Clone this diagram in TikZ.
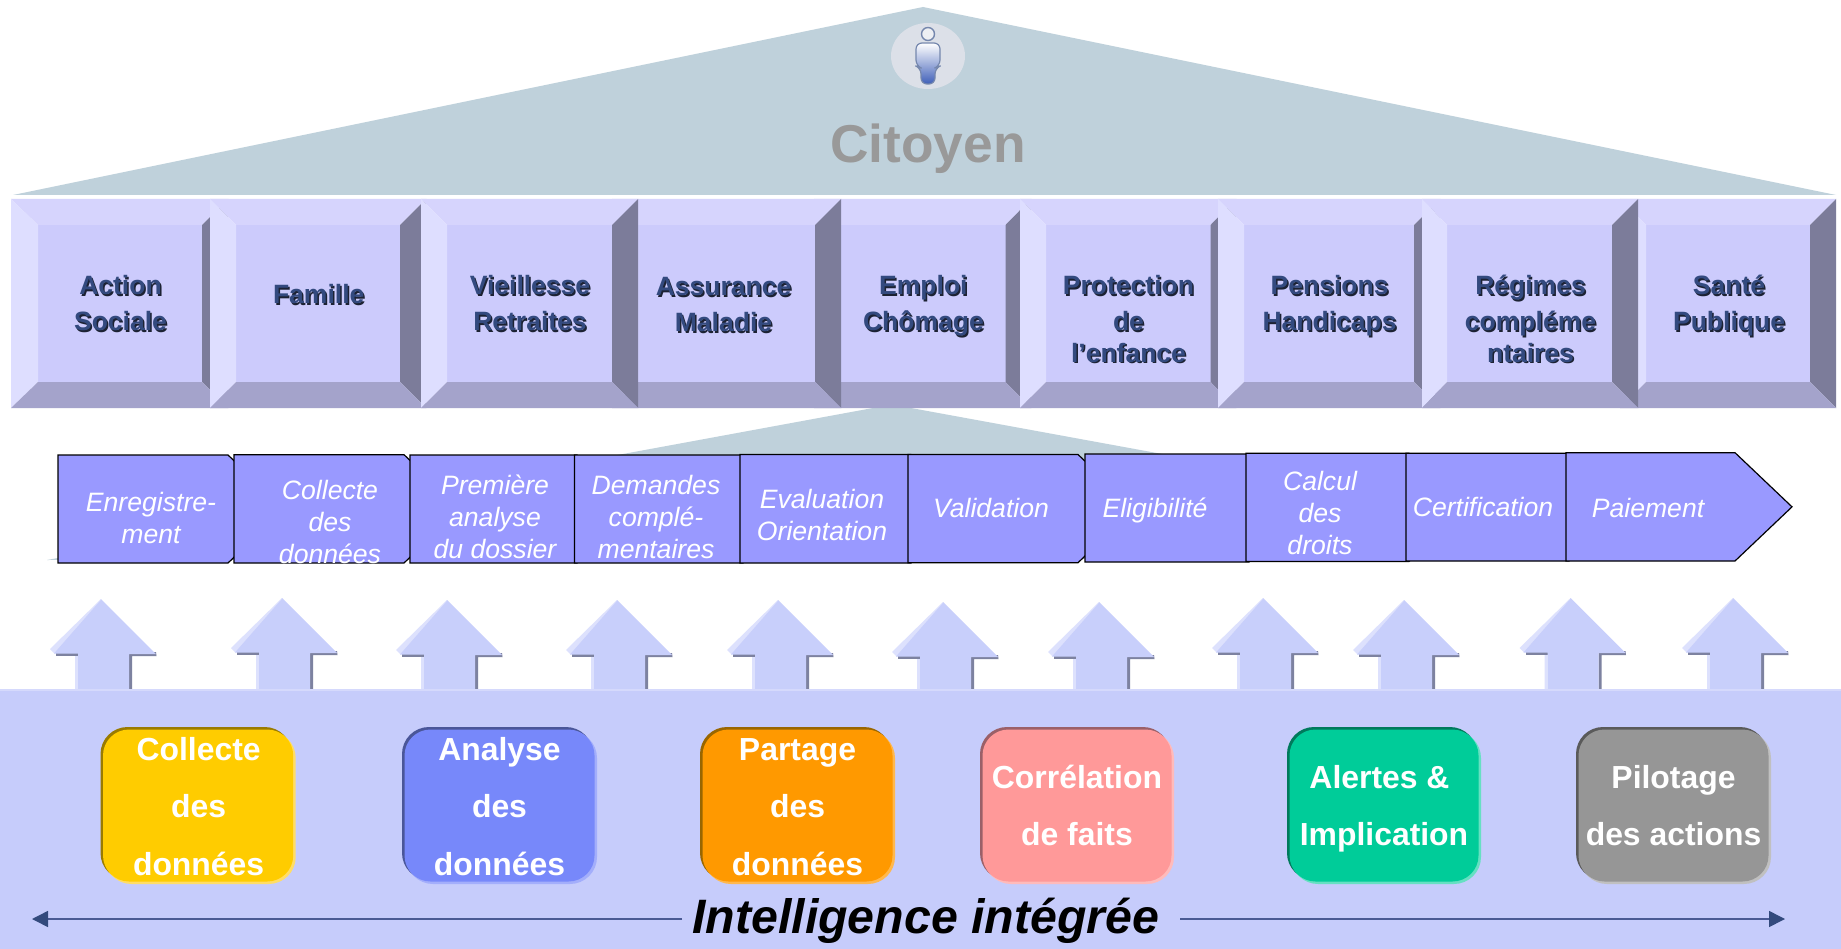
\documentclass[tikz,border=0pt]{standalone}
\usepackage{fontspec}
\setmainfont{Liberation Sans}
\usetikzlibrary{arrows.meta}
\definecolor{roofc}{HTML}{BFD1DB}
\definecolor{bevtop}{HTML}{D6D4FD}
\definecolor{bevleft}{HTML}{DEDEFF}
\definecolor{bevright}{HTML}{7C7C9A}
\definecolor{bevbot}{HTML}{A4A3CB}
\definecolor{bevmid}{HTML}{CCCBFC}
\definecolor{blockink}{HTML}{334A7F}
\definecolor{blockshadow}{HTML}{1C2233}
\definecolor{procfill}{HTML}{9999FF}
\definecolor{panelc}{HTML}{C6CCFB}
\definecolor{paneledge}{HTML}{D5D9FC}
\definecolor{arrmain}{HTML}{C8CFFB}
\definecolor{arrlight}{HTML}{DDE1FD}
\definecolor{arrdark}{HTML}{7D82A0}
\definecolor{lineink}{HTML}{4A5A94}
\definecolor{tipink}{HTML}{334A7D}
\definecolor{citoyenc}{HTML}{999999}
\definecolor{iconbg}{HTML}{DCE0E8}
\definecolor{iconline}{HTML}{7587AD}
\definecolor{iconblue}{HTML}{3F5FB8}
\newcommand{\shadowed}[1]{\leavevmode\rlap{\raisebox{-1.5pt}{\hspace{1.5pt}\color{blockshadow}#1}}{\color{blockink}#1}}
\newcommand{\bevelbox}[4]{%
  \fill[bevmid] (#2,225) rectangle (#3,382);
  \fill[bevtop] (#1,199) -- (#4,199) -- (#3,225) -- (#2,225) -- cycle;
  \fill[bevleft] (#1,199) -- (#2,225) -- (#2,382) -- (#1,408) -- cycle;
  \fill[bevright] (#4,199) -- (#3,225) -- (#3,382) -- (#4,408) -- cycle;
  \fill[bevbot] (#1,408) -- (#2,382) -- (#3,382) -- (#4,408) -- cycle;
}
\newcommand{\procshape}[4]{%
  \filldraw[procshape] (#1,#3) -- (#2,#3) -- ({#2+57},{(#3+#4)/2}) -- (#2,#4) -- (#1,#4) -- cycle;
}
\newcommand{\uparrowshape}[2]{%
  \begin{scope}[shift={(#1,#2)}]
    \fill[arrlight] (0,0) -- (-51,50) -- (-47,54) -- (-26,54) -- (-26,95) -- (-23,95) -- (-23,53) -- cycle;
    \fill[arrdark] (-45,53) rectangle (-23,57);
    \fill[arrdark] (28,53) -- (55,53) -- (55.5,57) -- (31,57) -- (31,95) -- (28,95) -- cycle;
    \fill[arrmain] (0,0) -- (55,55) -- (28,55) -- (28,95) -- (-23,95) -- (-23,54.5) -- (-47,54.5) -- (-1,2) -- cycle;
  \end{scope}
}
\newcommand{\softbox}[5]{%
  \fill[#4, rounded corners=27pt] (#1,727) rectangle ({#2-4},880);
  \fill[#5, rounded corners=27pt] ({#1+4},731) rectangle (#2,884);
  \fill[#3, rounded corners=26pt] ({#1+2.5},729.5) rectangle ({#2-2.5},881.5);
}
\tikzset{
  proclabel/.style={anchor=base, inner sep=0pt, text=white, font=\fontsize{26.6}{32}\selectfont\itshape},
  blocklabel/.style={anchor=base, inner sep=0pt, font=\fontsize{26.5}{36}\selectfont\bfseries},
  softlabel/.style={anchor=base, inner sep=0pt, text=white, font=\fontsize{31.9}{57.5}\selectfont\bfseries},
  procshape/.style={fill=procfill, draw=black, line width=1.2pt, line join=miter},
  bandarrow/.style={draw=lineink, line width=1.5pt, -{Triangle[length=16pt,width=16pt,color=tipink]}},
}
\newcommand{\stack}[1]{\begin{tabular}[t]{@{}c@{}}#1\end{tabular}}
\begin{document}
\begin{tikzpicture}[x=1pt,y=-1pt]
\useasboundingbox (0,0) rectangle (1841,949);
\fill[white] (0,0) rectangle (1841,949);
% roof
\fill[roofc] (13,195) -- (923,7) -- (1836,195) -- cycle;
\fill[roofc] (47,560) -- (873,408) -- (911,408) -- (1730,558) -- cycle;
% citizen icon
\fill[iconbg] (928,56) ellipse [x radius=37, y radius=33];
\filldraw[fill=iconbg!50!white, draw=iconline, line width=1.4pt] (928,34) circle [radius=6.5];
\draw[draw=iconline, line width=1.2pt, top color=white, middle color=white, bottom color=iconblue, rounded corners=6pt]
  (916,66) -- (916,43) -- (940,43) -- (940,66) -- (935,68) -- (935,84) -- (921,84) -- (921,68) -- cycle;
\node[anchor=base, inner sep=0pt, text=citoyenc, font=\fontsize{53.3}{60}\selectfont\bfseries] (citoyen) at (928,163) {Citoyen};
% blocks
\bevelbox{11}{38}{202}{228}
\bevelbox{210}{236}{400}{426}
\bevelbox{814}{840}{1005.5}{1031}
\bevelbox{612}{638}{815}{841}
\bevelbox{421}{447}{612}{638}
\bevelbox{1020}{1046}{1210.5}{1236}
\bevelbox{1218}{1244}{1414}{1440}
\bevelbox{1620}{1646}{1810}{1836}
\bevelbox{1422}{1447}{1612}{1638}
\node[blocklabel] (b1) at (120.5,295) {\shadowed{\stack{Action\\Sociale}}};
\node[blocklabel] (b2) at (318.7,304) {\shadowed{Famille}};
\node[blocklabel] (b3) at (530,295) {\shadowed{\stack{Vieillesse\\Retraites}}};
\node[blocklabel] (b4) at (723.5,296) {\shadowed{\stack{Assurance\\Maladie}}};
\node[blocklabel] (b5) at (923.4,295) {\shadowed{\stack{Emploi\\Chômage}}};
\node[blocklabel] (b6) at (1128.5,295) {\shadowed{\stack{Protection\\de\\[-4.5pt]l’enfance}}};
\node[blocklabel] (b7) at (1329.6,295) {\shadowed{\stack{Pensions\\Handicaps}}};
\node[blocklabel] (b8) at (1530.5,295) {\shadowed{\stack{Régimes\\compléme\\[-4.5pt]ntaires}}};
\node[blocklabel] (b9) at (1729,295) {\shadowed{\stack{Santé\\Publique}}};
% process band
\procshape{58}{228}{455}{563}
\procshape{234}{404}{454.7}{563}
\procshape{410}{577}{455}{563}
\procshape{574.5}{743}{455}{563}
\procshape{740}{911}{454.5}{563}
\procshape{908}{1078}{454.5}{562.7}
\procshape{1085}{1249}{454}{562}
\procshape{1246}{1409}{453.3}{561.5}
\procshape{1406}{1569}{453.3}{561}
\procshape{1566}{1735}{452.7}{561}
\node[proclabel] (p1) at (151,511) {\stack{Enregistre-\\ment}};
\node[proclabel] (p2) at (330,499) {\stack{Collecte\\des\\données}};
\node[proclabel] (p3) at (495,494) {\stack{Première\\analyse\\du dossier}};
\node[proclabel] (p4) at (656,494) {\stack{Demandes\\complé-\\mentaires}};
\node[proclabel] (p5) at (822,508) {\stack{Evaluation\\Orientation}};
\node[proclabel] (p6) at (991,517.7) {Validation};
\node[proclabel] (p7) at (1155,517.7) {Eligibilité};
\node[proclabel] (p8) at (1320,490) {\stack{Calcul\\des\\droits}};
\node[proclabel] (p9) at (1483,516) {Certification};
\node[proclabel] (p10) at (1648,517.7) {Paiement};
% up arrows
\uparrowshape{101}{599}
\uparrowshape{282}{598}
\uparrowshape{447}{600}
\uparrowshape{617}{600}
\uparrowshape{778}{600}
\uparrowshape{943}{602}
\uparrowshape{1099}{602}
\uparrowshape{1263}{598}
\uparrowshape{1404}{600}
\uparrowshape{1570.5}{598}
\uparrowshape{1733}{598}
% panel
\fill[panelc] (0,689) rectangle (1841,949);
\fill[paneledge] (0,689) rectangle (1841,691);
% capability boxes
\definecolor{c1}{HTML}{FFCC00}\definecolor{d1}{HTML}{9A7B00}\definecolor{l1}{HTML}{FFDD66}
\definecolor{c2}{HTML}{7788FA}\definecolor{d2}{HTML}{4A5699}\definecolor{l2}{HTML}{A3AEFB}
\definecolor{c3}{HTML}{FF9900}\definecolor{d3}{HTML}{996600}\definecolor{l3}{HTML}{FFB84D}
\definecolor{c4}{HTML}{FF9999}\definecolor{d4}{HTML}{9B6068}\definecolor{l4}{HTML}{FFBBBB}
\definecolor{c5}{HTML}{00CC99}\definecolor{d5}{HTML}{007A5C}\definecolor{l5}{HTML}{66E0C2}
\definecolor{c6}{HTML}{969696}\definecolor{d6}{HTML}{5A5A5A}\definecolor{l6}{HTML}{C0C0C0}
\softbox{100.5}{295.7}{c1}{d1}{l1}
\softbox{402}{597}{c2}{d2}{l2}
\softbox{700}{895}{c3}{d3}{l3}
\softbox{980}{1174}{c4}{d4}{l4}
\softbox{1287}{1481}{c5}{d5}{l5}
\softbox{1576}{1771}{c6}{d6}{l6}
\node[softlabel] (s1) at (198.6,760) {\stack{Collecte\\des\\données}};
\node[softlabel] (s2) at (499.5,760) {\stack{Analyse\\des\\données}};
\node[softlabel] (s3) at (797.5,760) {\stack{Partage\\des\\données}};
\node[softlabel] (s4) at (1077,788) {\stack{Corrélation\\de faits}};
\node[softlabel] (s5) at (1384,788) {\stack{Alertes \&\hspace*{9pt}\\Implication}};
\node[softlabel] (s6) at (1673.5,788) {\stack{Pilotage\\des actions}};
% band title and arrows
\node[anchor=base, inner sep=0pt, font=\fontsize{48.3}{56}\selectfont\bfseries\itshape] (title) at (925.8,933) {Intelligence intégrée};
\coordinate (lstart) at (682,919);
\coordinate (lend) at (32,919);
\coordinate (rstart) at (1180,919);
\coordinate (rend) at (1785,919);
\draw[bandarrow] (lstart) -- (lend);
\draw[bandarrow] (rstart) -- (rend);
\end{tikzpicture}
\end{document}
